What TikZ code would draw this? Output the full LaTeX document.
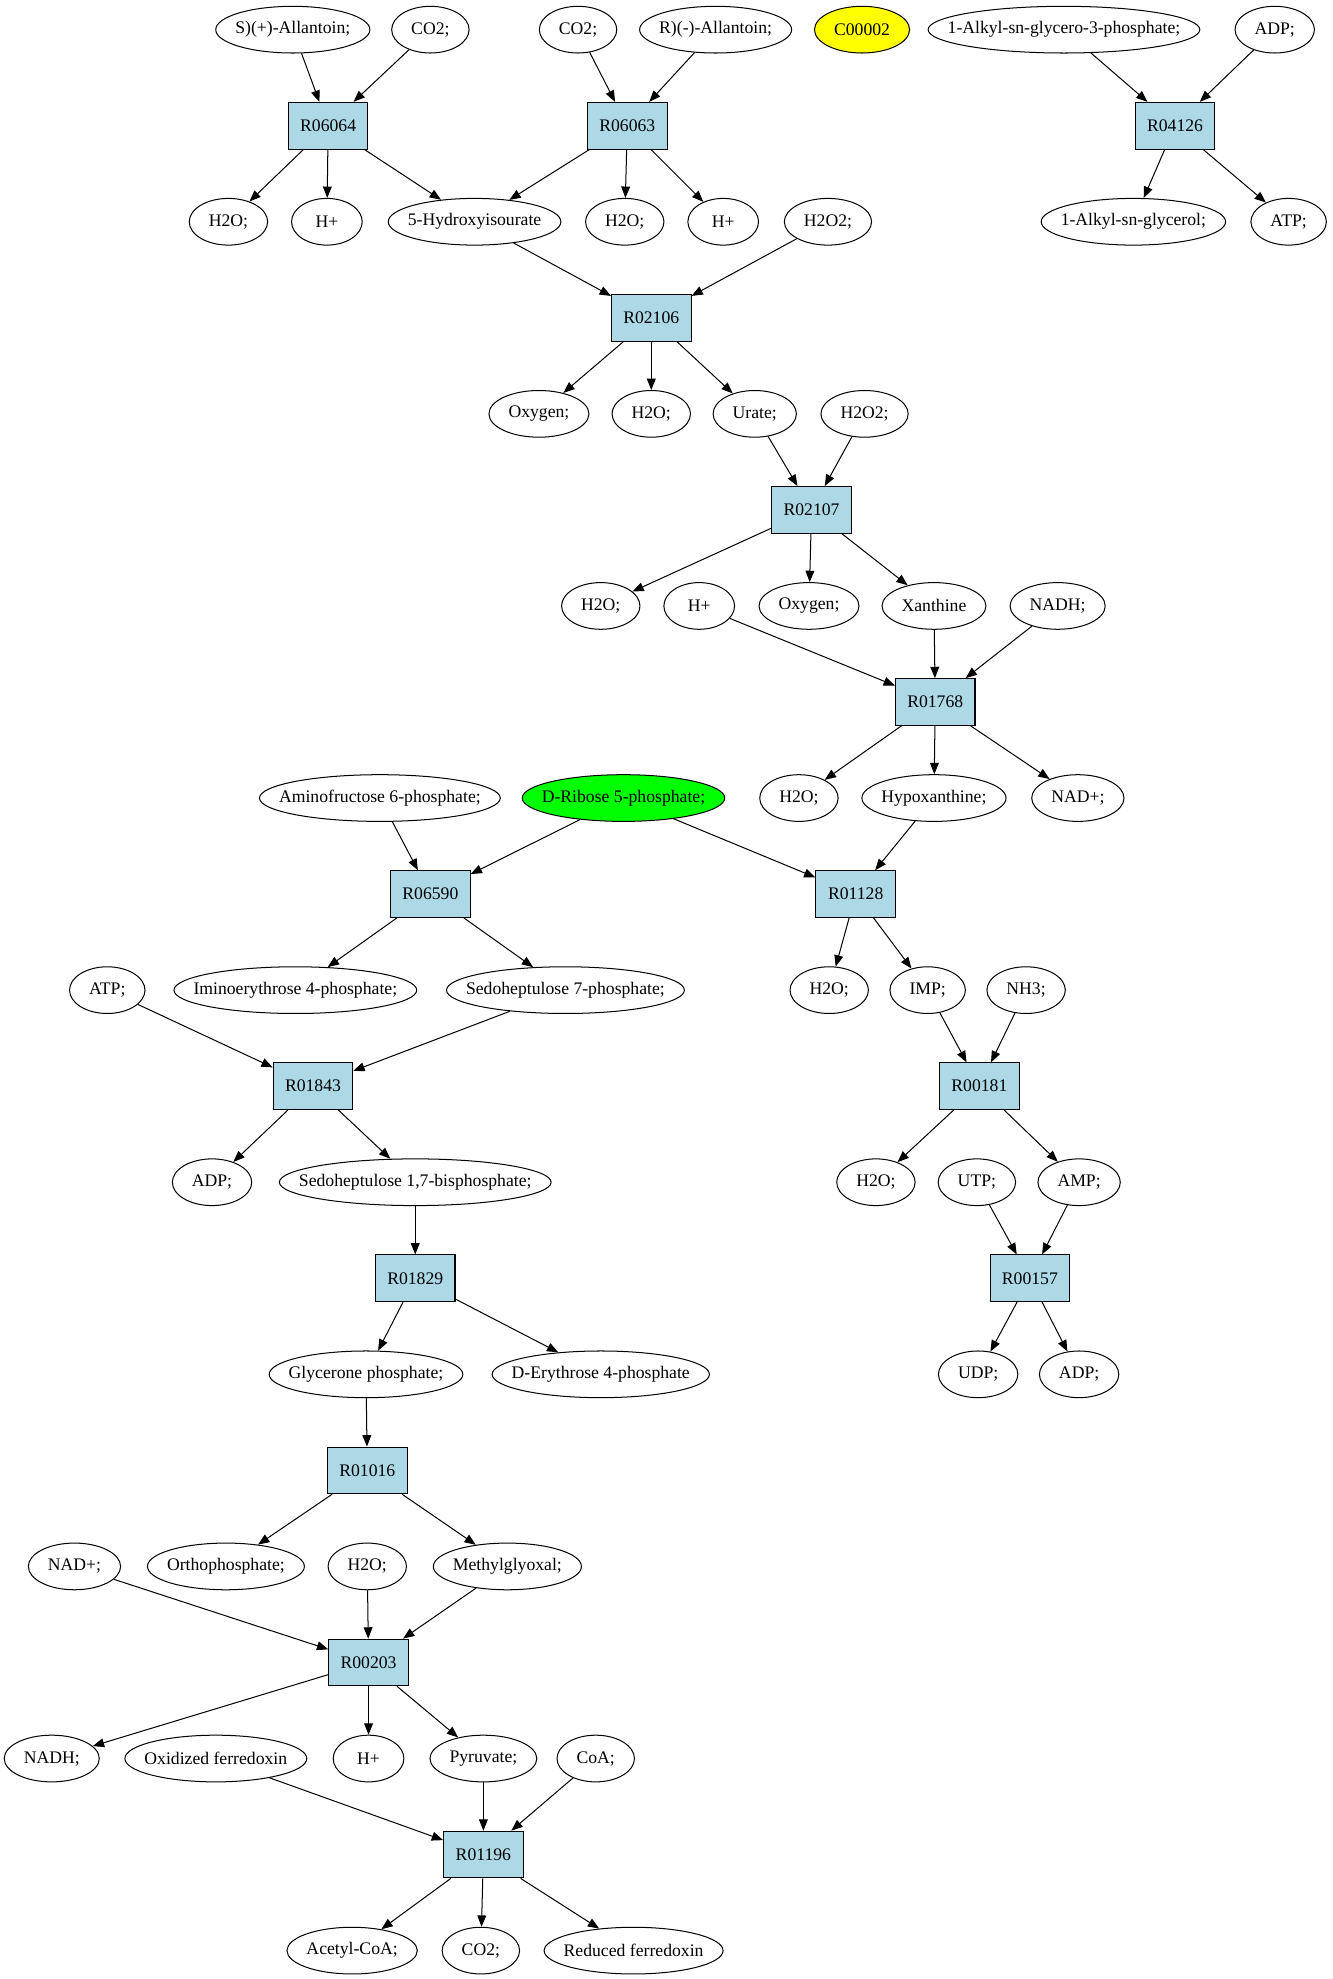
\documentclass[tikz,border=0pt]{standalone}
\usepackage{fontspec}
\setmainfont{Liberation Serif}
\usetikzlibrary{shapes.geometric,arrows.meta}
\definecolor{lblue}{RGB}{173,216,230}
\definecolor{yel}{RGB}{255,255,0}
\definecolor{grn}{RGB}{0,255,0}
\newlength\metw
\newcommand\mnode[4][]{%
  \pgfinterruptpicture
  \settowidth{\metw}{\fontsize{14}{17}\selectfont #4}%
  \global\metw=\metw
  \endpgfinterruptpicture
  \addtolength{\metw}{31pt}%
  \ifdim\metw<56pt\setlength{\metw}{56pt}\fi
  \node[met,minimum width=\metw,#1] (#2) at (#3) {\makebox[0pt]{#4}};}
\newcommand\rnode[2]{\node[rxn] (#1) at (#2) {#1};}
\begin{document}
\begin{tikzpicture}[x=1pt,y=-1pt,
  every node/.style={font=\fontsize{14}{17}\selectfont},
  met/.style={ellipse,draw,line width=0.8pt,inner sep=0pt,minimum height=37pt},
  rxn/.style={rectangle,draw,fill=lblue,line width=0.8pt,inner sep=0pt,minimum width=63pt,minimum height=37pt},
  arr/.style={-{Triangle[length=9pt,width=7pt]},line width=0.8pt}]
\useasboundingbox (0,0) rectangle (1056,1568);
% row 0
\mnode{s1}{232,23.5}{S)(+)-Allantoin;}
\mnode{c1}{341,23.5}{CO2;}
\mnode{c2}{458,23.5}{CO2;}
\mnode{r1}{567,23.5}{R)(-)-Allantoin;}
\mnode[fill=yel]{cc}{683,23.5}{C00002}
\mnode{ak}{843,23.5}{1-Alkyl-sn-glycero-3-phosphate;}
\mnode{adpA}{1010,23.5}{ADP;}
% row 1
\rnode{R06064}{260,99.6}
\rnode{R06063}{497,99.6}
\rnode{R04126}{931,99.6}
% row 2
\mnode{h2oA}{181,175.7}{H2O;}
\mnode{hpA}{259,175.7}{H+}
\mnode{hyd}{376,175.7}{5-Hydroxyisourate}
\mnode{h2oB}{495,175.7}{H2O;}
\mnode{hpB}{573,175.7}{H+}
\mnode{hhA}{656,175.7}{H2O2;}
\mnode{akg}{898,175.7}{1-Alkyl-sn-glycerol;}
\mnode{atpA}{1021,175.7}{ATP;}
% row 3
\rnode{R02106}{516,251.8}
% row 4
\mnode{oxyA}{427,327.9}{Oxygen;}
\mnode{h2oC}{516,327.9}{H2O;}
\mnode{urate}{598,327.9}{Urate;}
\mnode{hhB}{685,327.9}{H2O2;}
% row 5
\rnode{R02107}{643,404}
% row 6
\mnode{h2oD}{476,480.1}{H2O;}
\mnode{hpC}{554,480.1}{H+}
\mnode{oxyB}{641,480.1}{Oxygen;}
\mnode{xan}{740,480.1}{Xanthine}
\mnode{nadhA}{838,480.1}{NADH;}
% row 7
\rnode{R01768}{741,556.2}
% row 8
\mnode{amf}{301,632.3}{Aminofructose 6-phosphate;}
\mnode[fill=grn]{drp}{494,632.3}{D-Ribose 5-phosphate;}
\mnode{h2oE}{633,632.3}{H2O;}
\mnode{hyp}{740,632.3}{Hypoxanthine;}
\mnode{nadA}{854,632.3}{NAD+;}
% row 9
\rnode{R06590}{341,708.4}
\rnode{R01128}{678,708.4}
% row 10
\mnode{atpB}{85,784.5}{ATP;}
\mnode{imi}{234,784.5}{Iminoerythrose 4-phosphate;}
\mnode{sed}{448,784.5}{Sedoheptulose 7-phosphate;}
\mnode{h2oF}{657,784.5}{H2O;}
\mnode{imp}{735,784.5}{IMP;}
\mnode{nh}{813,784.5}{NH3;}
% row 11
\rnode{R01843}{248,860.6}
\rnode{R00181}{776,860.6}
% row 12
\mnode{adpB}{168,936.7}{ADP;}
\mnode{sbp}{329,936.7}{Sedoheptulose 1,7-bisphosphate;}
\mnode{h2oG}{694,936.7}{H2O;}
\mnode{utp}{774,936.7}{UTP;}
\mnode{amp}{855,936.7}{AMP;}
% row 13
\rnode{R01829}{329,1012.8}
\rnode{R00157}{816,1012.8}
% row 14
\mnode{gly}{290,1088.9}{Glycerone phosphate;}
\mnode{ery}{476,1088.9}{D-Erythrose 4-phosphate}
\mnode{udp}{775,1088.9}{UDP;}
\mnode{adpC}{855,1088.9}{ADP;}
% row 15
\rnode{R01016}{291,1165}
% row 16
\mnode{nadB}{59,1241.1}{NAD+;}
\mnode{orth}{179,1241.1}{Orthophosphate;}
\mnode{h2oH}{291,1241.1}{H2O;}
\mnode{mgl}{402,1241.1}{Methylglyoxal;}
% row 17
\rnode{R00203}{292,1317.2}
% row 18
\mnode{nadhB}{41,1393.3}{NADH;}
\mnode{oxf}{171,1393.3}{Oxidized ferredoxin}
\mnode{hpD}{292,1393.3}{H+}
\mnode{pyr}{383,1393.3}{Pyruvate;}
\mnode{coa}{472,1393.3}{CoA;}
% row 19
\rnode{R01196}{383,1469.4}
% row 20
\mnode{acc}{279,1545.5}{Acetyl-CoA;}
\mnode{co2c}{381,1545.5}{CO2;}
\mnode{redf}{502,1545.5}{Reduced ferredoxin}
% edges
\draw[arr] (s1) -- (R06064);
\draw[arr] (c1) -- (R06064);
\draw[arr] (R06064) -- (h2oA);
\draw[arr] (R06064) -- (hpA);
\draw[arr] (R06064) -- (hyd);
\draw[arr] (c2) -- (R06063);
\draw[arr] (r1) -- (R06063);
\draw[arr] (R06063) -- (hyd);
\draw[arr] (R06063) -- (h2oB);
\draw[arr] (R06063) -- (hpB);
\draw[arr] (ak) -- (R04126);
\draw[arr] (adpA) -- (R04126);
\draw[arr] (R04126) -- (akg);
\draw[arr] (R04126) -- (atpA);
\draw[arr] (hyd) -- (R02106);
\draw[arr] (hhA) -- (R02106);
\draw[arr] (R02106) -- (oxyA);
\draw[arr] (R02106) -- (h2oC);
\draw[arr] (R02106) -- (urate);
\draw[arr] (urate) -- (R02107);
\draw[arr] (hhB) -- (R02107);
\draw[arr] (R02107) -- (h2oD);
\draw[arr] (R02107) -- (oxyB);
\draw[arr] (R02107) -- (xan);
\draw[arr] (hpC) -- (R01768);
\draw[arr] (xan) -- (R01768);
\draw[arr] (nadhA) -- (R01768);
\draw[arr] (R01768) -- (h2oE);
\draw[arr] (R01768) -- (hyp);
\draw[arr] (R01768) -- (nadA);
\draw[arr] (amf) -- (R06590);
\draw[arr] (drp) -- (R06590);
\draw[arr] (drp) -- (R01128);
\draw[arr] (hyp) -- (R01128);
\draw[arr] (R06590) -- (imi);
\draw[arr] (R06590) -- (sed);
\draw[arr] (R01128) -- (h2oF);
\draw[arr] (R01128) -- (imp);
\draw[arr] (atpB) -- (R01843);
\draw[arr] (sed) -- (R01843);
\draw[arr] (imp) -- (R00181);
\draw[arr] (nh) -- (R00181);
\draw[arr] (R01843) -- (adpB);
\draw[arr] (R01843) -- (sbp);
\draw[arr] (R00181) -- (h2oG);
\draw[arr] (R00181) -- (amp);
\draw[arr] (sbp) -- (R01829);
\draw[arr] (utp) -- (R00157);
\draw[arr] (amp) -- (R00157);
\draw[arr] (R01829) -- (gly);
\draw[arr] (R01829) -- (ery);
\draw[arr] (R00157) -- (udp);
\draw[arr] (R00157) -- (adpC);
\draw[arr] (gly) -- (R01016);
\draw[arr] (R01016) -- (orth);
\draw[arr] (R01016) -- (mgl);
\draw[arr] (nadB) -- (R00203);
\draw[arr] (h2oH) -- (R00203);
\draw[arr] (mgl) -- (R00203);
\draw[arr] (R00203) -- (nadhB);
\draw[arr] (R00203) -- (hpD);
\draw[arr] (R00203) -- (pyr);
\draw[arr] (oxf) -- (R01196);
\draw[arr] (pyr) -- (R01196);
\draw[arr] (coa) -- (R01196);
\draw[arr] (R01196) -- (acc);
\draw[arr] (R01196) -- (co2c);
\draw[arr] (R01196) -- (redf);
\end{tikzpicture}
\end{document}
